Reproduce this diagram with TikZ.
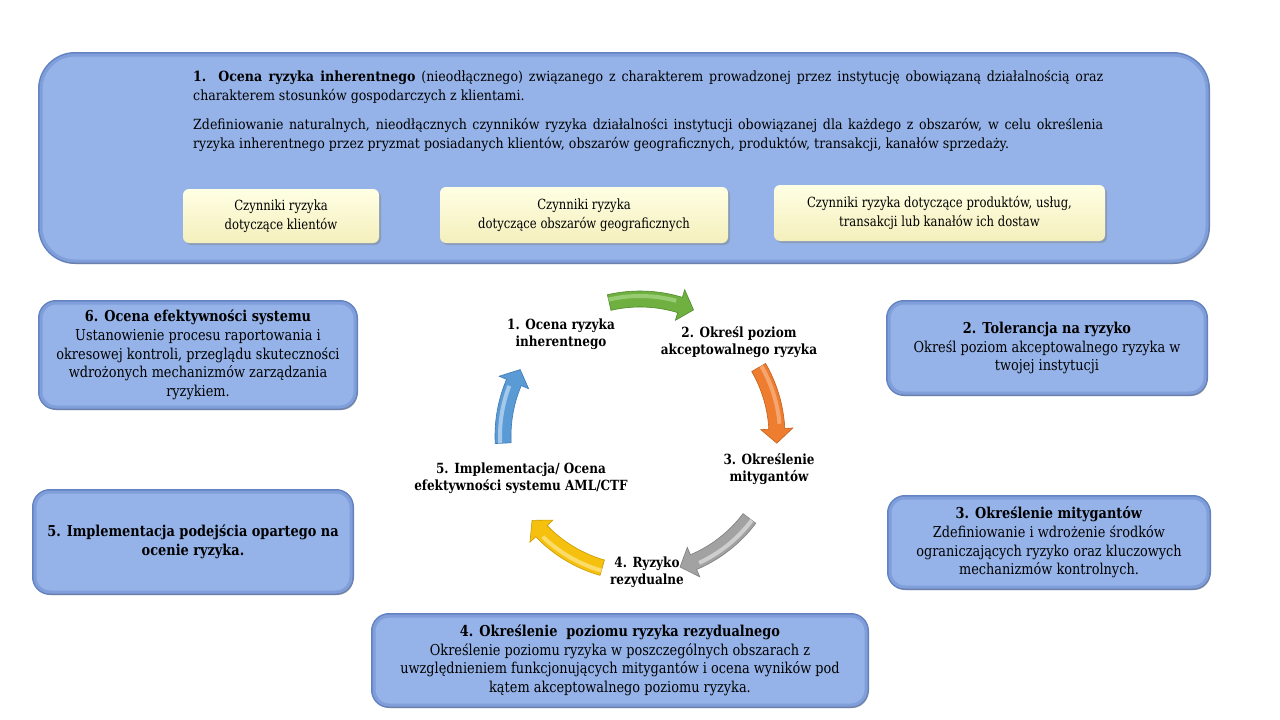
\documentclass[tikz,border=0pt]{standalone}
\usepackage{fontspec}
\setmainfont{DejaVu Serif}[FakeStretch=0.86]
\newfontfamily\tfam{DejaVu Serif}[FakeStretch=0.9]
\newfontfamily\yfam{DejaVu Serif}[FakeStretch=0.83]
\usetikzlibrary{calc,shadows}
\hyphenpenalty=10000
\exhyphenpenalty=10000
\definecolor{bfill}{HTML}{95B3E8}
\definecolor{bedge}{HTML}{7F9EDA}
\definecolor{bdark}{HTML}{6282C2}
\definecolor{yfill}{HTML}{FFFFE4}
\definecolor{ybot}{HTML}{F4EFBC}
\definecolor{cgreen}{HTML}{6FB040}
\definecolor{cgreenl}{HTML}{A9D98A}
\definecolor{cgreend}{HTML}{4E8A2A}
\definecolor{corange}{HTML}{EE7D30}
\definecolor{corangel}{HTML}{F8B787}
\definecolor{coranged}{HTML}{C45F1A}
\definecolor{cgray}{HTML}{A2A2A2}
\definecolor{cgrayl}{HTML}{E2E2E2}
\definecolor{cgrayd}{HTML}{7E7E7E}
\definecolor{cyellow}{HTML}{F6C10E}
\definecolor{cyellowl}{HTML}{FFE890}
\definecolor{cyellowd}{HTML}{C99A00}
\definecolor{cblue}{HTML}{5B9BD5}
\definecolor{cbluel}{HTML}{C4DDF3}
\definecolor{cblued}{HTML}{3C78B4}
\tikzset{
  bluebox/.style={rounded corners=15pt, fill=bfill, draw=bedge, line width=3pt,
    preaction={draw=bdark, line width=6pt},
    drop shadow={shadow xshift=2pt, shadow yshift=-3pt, opacity=.35},
    align=center, inner sep=0pt, font=\fontsize{15}{18.6}\selectfont},
  bigbox/.style={bluebox, rounded corners=34pt},
  ybox/.style={rounded corners=6pt, top color=yfill, bottom color=ybot, draw=none,
    drop shadow={shadow xshift=2pt, shadow yshift=-2pt, opacity=.45},
    align=center, inner sep=0pt, font=\yfam\fontsize{14}{19.5}\selectfont},
  toptext/.style={text width=910pt, align=justify, inner sep=0pt,
    font=\tfam\fontsize{14}{19.5}\selectfont},
  cyclab/.style={align=center, inner sep=0pt, font=\bfseries\fontsize{14}{17}\selectfont}
}
\newcommand\cycarrow[5]{%
  \pgfmathsetmacro\cah{#2+6}%
  \pgfmathsetmacro\cahh{#2+8}%
  \fill[#3, draw=#5, line width=.6pt] ($(C)+(#1:145pt)$) arc[start angle=#1,end angle=\cah,radius=145pt]
    -- ($(C)+(\cah:153pt)$) -- ($(C)+(#2:137pt)$) -- ($(C)+(\cah:121pt)$)
    -- ($(C)+(\cah:129pt)$) arc[start angle=\cah,end angle=#1,radius=129pt] -- cycle;
  \draw[#4, line width=4pt, opacity=.7] ($(C)+(#1:140pt)$) arc[start angle=#1,end angle=\cahh,radius=140pt];
}
\begin{document}
\begin{tikzpicture}[x=1pt,y=-1pt]
\useasboundingbox[fill=white] (0,0) rectangle (1280,720);
% top box
\node[bigbox, minimum width=1166pt, minimum height=206pt] (top) at (624,158) {};
\node[toptext, anchor=north west] (p1) at (193,70) {\textbf{1. Ocena ryzyka inherentnego} (nieodłącznego) związanego z charakterem prowadzonej przez instytucję obowiązaną działalnością oraz charakterem stosunków gospodarczych z klientami.};
\node[toptext, anchor=north west] (p2) at (193,118) {Zdefiniowanie naturalnych, nieodłącznych czynników ryzyka działalności instytucji obowiązanej dla każdego z obszarów, w celu określenia ryzyka inherentnego przez pryzmat posiadanych klientów, obszarów geograficznych, produktów, transakcji, kanałów sprzedaży.};
\node[ybox, minimum width=196pt, minimum height=54pt] (y1) at (281,216) {Czynniki ryzyka\\dotyczące klientów};
\node[ybox, minimum width=288pt, minimum height=56pt] (y2) at (584,215) {Czynniki ryzyka\\dotyczące obszarów geograficznych};
\node[ybox, minimum width=331pt, minimum height=56pt] (y3) at (939.5,213) {Czynniki ryzyka dotyczące produktów, usług,\\transakcji lub kanałów ich dostaw};
% side boxes
\node[bluebox, minimum width=314pt, minimum height=104pt] (b6) at (198,355) {\textbf{6. Ocena efektywności systemu}\\Ustanowienie procesu raportowania i\\okresowej kontroli, przeglądu skuteczności\\wdrożonych mechanizmów zarządzania\\ryzykiem.};
\node[bluebox, minimum width=316pt, minimum height=100pt] (b5) at (193,542) {\textbf{5. Implementacja podejścia opartego na}\\\textbf{ocenie ryzyka.}};
\node[bluebox, minimum width=316pt, minimum height=90pt] (b2) at (1047,348) {\textbf{2. Tolerancja na ryzyko}\\Określ poziom akceptowalnego ryzyka w\\twojej instytucji};
\node[bluebox, minimum width=318pt, minimum height=89pt] (b3) at (1049,542.5) {\textbf{3. Określenie mitygantów}\\Zdefiniowanie i wdrożenie środków\\ograniczających ryzyko oraz kluczowych\\mechanizmów kontrolnych.};
\node[bluebox, minimum width=492pt, minimum height=89pt] (b4) at (620,660.5) {\textbf{4. Określenie\ \ poziomu ryzyka rezydualnego}\\Określenie poziomu ryzyka w poszczególnych obszarach z\\uwzględnieniem funkcjonujących mitygantów i ocena wyników pod\\kątem akceptowalnego poziomu ryzyka.};
% cycle
\coordinate (C) at (640,436);
\cycarrow{103}{67}{cgreen}{cgreenl}{cgreend}
\cycarrow{30}{-3}{corange}{corangel}{coranged}
\cycarrow{-37}{-73}{cgray}{cgrayl}{cgrayd}
\cycarrow{-106}{-142}{cyellow}{cyellowl}{cyellowd}
\cycarrow{183}{151}{cblue}{cbluel}{cblued}
\node[cyclab] (l1) at (561,334) {1. Ocena ryzyka\\inherentnego};
\node[cyclab] (l2) at (739,342) {2. Określ poziom\\akceptowalnego ryzyka};
\node[cyclab] (l3) at (769,469) {3. Określenie\\mitygantów};
\node[cyclab] (l4) at (647,572) {4. Ryzyko\\rezydualne};
\node[cyclab] (l5) at (521,478) {5. Implementacja/ Ocena\\efektywności systemu AML/CTF};
\end{tikzpicture}
\end{document}
